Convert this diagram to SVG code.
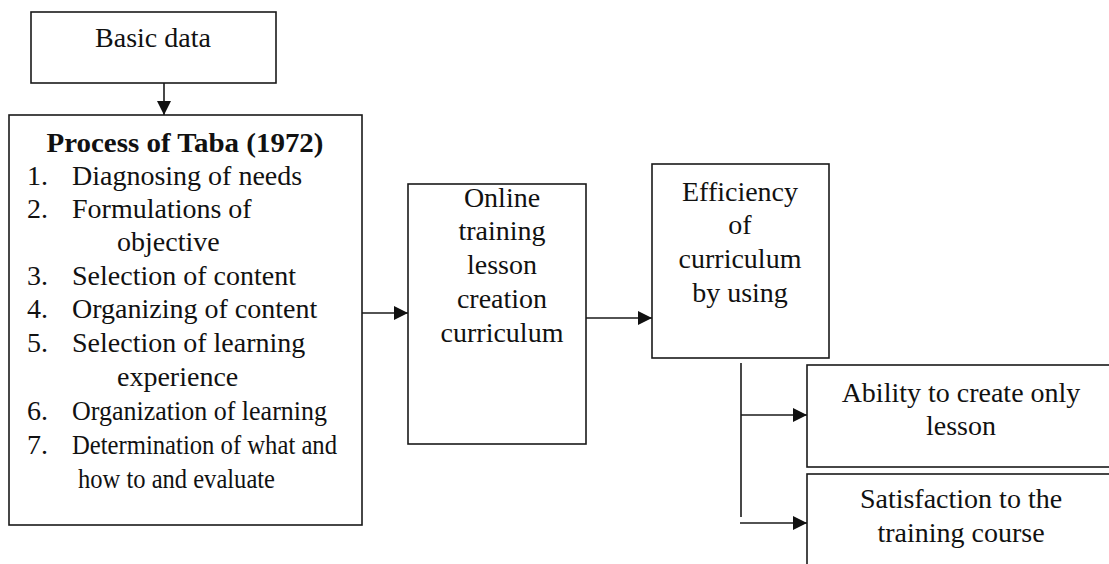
<svg xmlns="http://www.w3.org/2000/svg" width="1109" height="564" viewBox="0 0 1109 564">
<style>
.box{fill:#fff;stroke:#1a1a1a;stroke-width:1.6}
.t{font-family:"Liberation Serif","Times New Roman",serif;font-size:28px;fill:#111}
.c{text-anchor:middle}
.b{font-weight:bold}
.ln{stroke:#1a1a1a;stroke-width:1.6;fill:none}
</style>
<defs>
<marker id="ah" viewBox="0 0 10 10" refX="10" refY="5" markerWidth="14" markerHeight="14" markerUnits="userSpaceOnUse" orient="auto">
<path d="M0,0 L10,5 L0,10 z" fill="#111"/>
</marker>
</defs>
<rect width="1109" height="564" fill="#fff"/>
<g id="connectors">
<line class="ln" x1="164" y1="83" x2="164" y2="115" marker-end="url(#ah)"/>
<line class="ln" x1="362" y1="313" x2="408" y2="313" marker-end="url(#ah)"/>
<line class="ln" x1="586" y1="318" x2="652" y2="318" marker-end="url(#ah)"/>
<line class="ln" x1="741" y1="363" x2="741" y2="517"/>
<line class="ln" x1="741" y1="415" x2="807" y2="415" marker-end="url(#ah)"/>
<line class="ln" x1="740" y1="523" x2="807" y2="523" marker-end="url(#ah)"/>
</g>
<g id="basic-data">
<rect class="box" x="31" y="12" width="245" height="71"/>
<text class="t c" x="153" y="47">Basic data</text>
</g>
<g id="taba">
<rect class="box" x="9" y="115" width="353" height="410"/>
<text class="t c b" x="185" y="152" textLength="277" lengthAdjust="spacingAndGlyphs">Process of Taba (1972)</text>
<text class="t" x="27" y="185">1.</text><text class="t" x="72" y="185">Diagnosing of needs</text>
<text class="t" x="27" y="218">2.</text><text class="t" x="72" y="218">Formulations of</text>
<text class="t" x="117" y="251">objective</text>
<text class="t" x="27" y="285">3.</text><text class="t" x="72" y="285">Selection of content</text>
<text class="t" x="27" y="318">4.</text><text class="t" x="72" y="318">Organizing of content</text>
<text class="t" x="27" y="352">5.</text><text class="t" x="72" y="352">Selection of learning</text>
<text class="t" x="117" y="386">experience</text>
<text class="t" x="27" y="420">6.</text><text class="t" x="72" y="420" textLength="255" lengthAdjust="spacingAndGlyphs">Organization of learning</text>
<text class="t" x="27" y="454">7.</text><text class="t" x="72" y="454" textLength="265" lengthAdjust="spacingAndGlyphs">Determination of what and</text>
<text class="t" x="78" y="488" textLength="197" lengthAdjust="spacingAndGlyphs">how to and evaluate</text>
</g>
<g id="online">
<rect class="box" x="408" y="184" width="178" height="260"/>
<text class="t c" x="502" y="207">Online</text>
<text class="t c" x="502" y="240">training</text>
<text class="t c" x="502" y="274">lesson</text>
<text class="t c" x="502" y="308">creation</text>
<text class="t c" x="502" y="342">curriculum</text>
</g>
<g id="efficiency">
<rect class="box" x="652" y="164" width="177" height="194"/>
<text class="t c" x="740" y="201">Efficiency</text>
<text class="t c" x="740" y="234">of</text>
<text class="t c" x="740" y="268">curriculum</text>
<text class="t c" x="740" y="302">by using</text>
</g>
<g id="ability">
<rect class="box" x="807" y="365" width="320" height="102"/>
<text class="t c" x="961" y="402">Ability to create only</text>
<text class="t c" x="961" y="435">lesson</text>
</g>
<g id="satisfaction">
<rect class="box" x="807" y="474" width="320" height="110"/>
<text class="t c" x="961" y="508">Satisfaction to the</text>
<text class="t c" x="961" y="542">training course</text>
</g>
</svg>
